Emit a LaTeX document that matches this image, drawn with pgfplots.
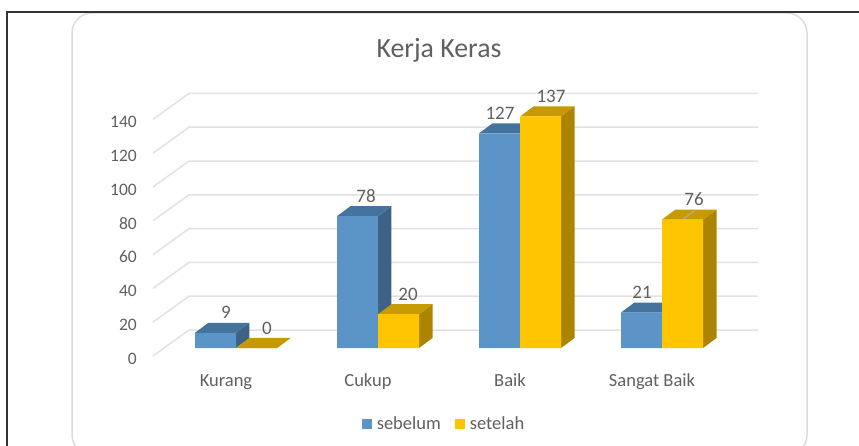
\documentclass[border=0pt]{standalone}
\usepackage{pgfplots}
\pgfplotsset{compat=1.18}
\usepackage{fontspec}
\setmainfont{Carlito}
\definecolor{txt}{HTML}{606060}
\definecolor{gridc}{HTML}{E2E2E2}
\definecolor{framec}{HTML}{DCDCDC}
\definecolor{bfront}{HTML}{5B94C6}
\definecolor{btop}{HTML}{44739E}
\definecolor{bside}{HTML}{3D6286}
\definecolor{yfront}{HTML}{FFC600}
\definecolor{ytop}{HTML}{C69A00}
\definecolor{yside}{HTML}{AB8500}
\pgfplotstableread{
x y lx
0 9 -10
1 78 -12
2 127 -20
3 21 -20
}\sebelum
\pgfplotstableread{
x y lx
0 0 31
1 20 30
2 137 31
3 76 32
}\setelah
% x0 x1 value topcolour sidecolour: side and top faces of one bar
\newcommand\barfaces[5]{%
  \pgfmathsetmacro\xa{#1+0.095}%
  \pgfmathsetmacro\xb{#2+0.095}%
  \pgfmathsetmacro\yt{#3+5.92}%
  \addplot[fill=#5,draw=none,forget plot] coordinates {(#2,0) (\xb,5.92) (\xb,\yt) (#2,#3)};
  \addplot[fill=#4,draw=none,forget plot] coordinates {(#1,#3) (#2,#3) (\xb,\yt) (\xa,\yt)};
}
\begin{document}
\begin{tikzpicture}
\path[use as bounding box] (0,0) rectangle (859pt,445pt);
\begin{scope}
\clip (0,0) rectangle (859pt,445pt);
\fill[white] (0,0) rectangle (859pt,445pt);
\draw[framec,line width=1.5pt,rounded corners=20pt] (72pt,-10pt) rectangle (807pt,432pt);
\draw[black!80,line width=1.2pt] (7pt,-2pt) -- (7pt,433pt) -- (861pt,433pt);
\end{scope}
\begin{axis}[
  at={(153pt,89pt)},anchor=south west,
  scale only axis,width=605pt,height=263pt,
  xmin=-0.5845,xmax=3.676,ymin=-4.734,ymax=150.89,
  clip=false,no markers,
  axis line style={draw=none},
  tick style={draw=none},
  major tick length=0pt,
  xtick={0,1,2,3},xticklabels={Kurang,Cukup,Baik,Sangat Baik},
  ytick={-4.734,15.266,35.266,55.266,75.266,95.266,115.266,135.266},
  yticklabels={0,20,40,60,80,100,120,140},
  x tick label style={anchor=center,inner sep=0pt,text height=12pt,text depth=4pt,yshift=-26pt,xshift=-10pt,
    font=\fontsize{18.5}{20}\selectfont,text=txt},
  y tick label style={anchor=east,inner sep=0pt,xshift=-16pt,yshift=-2.5pt,
    font=\fontsize{17.5}{20}\selectfont,text=txt},
  /pgf/number format/assume math mode=true,
  title={Kerja Keras},
  title style={at={(0.4727,1.141)},anchor=center,font=\fontsize{27.8}{30}\selectfont,text=txt},
  legend style={at={(0.4810,-0.2586)},anchor=center,draw=none,fill=none,
    legend columns=2,font=\fontsize{18.5}{20}\selectfont,text=txt,
    /tikz/column 1/.style={column sep=3pt},
    /tikz/column 2/.style={column sep=12pt},
    /tikz/column 3/.style={column sep=3pt}},
]
\addplot[gridc,line width=1.5pt,forget plot] coordinates {(-0.5845,-4.734) (-0.331,10.65) (3.676,10.65)};
\addplot[gridc,line width=1.5pt,forget plot] coordinates {(-0.5845,15.266) (-0.331,30.65) (3.676,30.65)};
\addplot[gridc,line width=1.5pt,forget plot] coordinates {(-0.5845,35.266) (-0.331,50.65) (3.676,50.65)};
\addplot[gridc,line width=1.5pt,forget plot] coordinates {(-0.5845,55.266) (-0.331,70.65) (3.676,70.65)};
\addplot[gridc,line width=1.5pt,forget plot] coordinates {(-0.5845,75.266) (-0.331,90.65) (3.676,90.65)};
\addplot[gridc,line width=1.5pt,forget plot] coordinates {(-0.5845,95.266) (-0.331,110.65) (3.676,110.65)};
\addplot[gridc,line width=1.5pt,forget plot] coordinates {(-0.5845,115.266) (-0.331,130.65) (3.676,130.65)};
\addplot[gridc,line width=1.5pt,forget plot] coordinates {(-0.5845,135.266) (-0.331,150.65) (3.676,150.65)};
\barfaces{-0.289}{0}{9}{btop}{bside}
\barfaces{0.711}{1}{78}{btop}{bside}
\barfaces{1.711}{2}{127}{btop}{bside}
\barfaces{2.711}{3}{21}{btop}{bside}
\addplot[ybar,bar width=41pt,bar shift=-20.5pt,fill=bfront,draw=none,
  legend image code/.code={\fill[bfront] (0pt,-5pt) rectangle (10pt,5pt);},
  visualization depends on={\thisrow{lx}\as\lx},
  nodes near coords,
  every node near coord/.append style={anchor=center,text=txt,font=\fontsize{19}{20}\selectfont,
    inner sep=0pt,xshift=\lx pt,yshift=20pt}]
  table[x=x,y=y] {\sebelum};
\addlegendentry{sebelum}
\barfaces{0}{0.289}{0}{ytop}{yside}
\barfaces{1}{1.289}{20}{ytop}{yside}
\barfaces{2}{2.289}{137}{ytop}{yside}
\barfaces{3}{3.289}{76}{ytop}{yside}
\addplot[ybar,bar width=41pt,bar shift=20.5pt,fill=yfront,draw=none,
  legend image code/.code={\fill[yfront] (0pt,-5pt) rectangle (10pt,5pt);},
  visualization depends on={\thisrow{lx}\as\lx},
  nodes near coords,
  every node near coord/.append style={anchor=center,text=txt,font=\fontsize{19}{20}\selectfont,
    inner sep=0pt,xshift=\lx pt,yshift=20pt}]
  table[x=x,y=y] {\setelah};
\addlegendentry{setelah}
\addplot[black!30,line width=1pt,forget plot] coordinates {(3.148,76.3) (3.232,81.4)};
\end{axis}
\end{tikzpicture}
\end{document}
